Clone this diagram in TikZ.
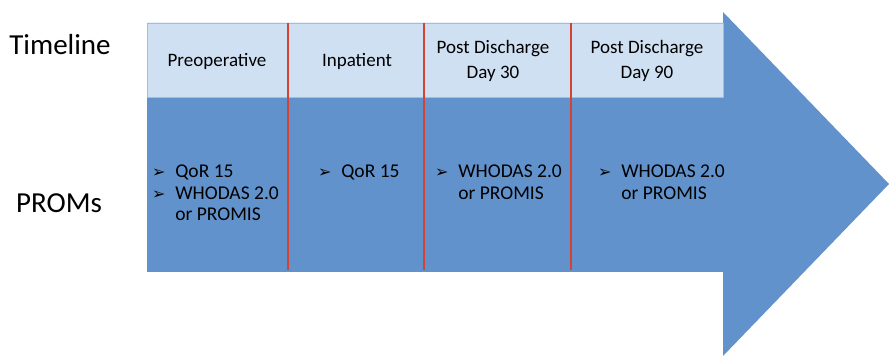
\documentclass[tikz,border=0pt]{standalone}
\usepackage{fontspec}
\setmainfont{Carlito}
\newfontfamily\bulletfont{DejaVu Sans}
\usepackage{tikz}

\newcommand{\pbul}{{\bulletfont\fontsize{16}{16}\selectfont ➢}\hspace{0.5em}}

\begin{document}
\begin{tikzpicture}
		[x=1pt,y=1pt,line cap=round,
		%Styles
		row label/.style={font=\fontsize{29}{29}\selectfont,inner sep=0pt},
		header text/.style={align=center,font=\fontsize{19}{25}\selectfont,inner sep=0pt},
		list text/.style={align=left,anchor=north west,font=\fontsize{19.5}{21.5}\selectfont,inner sep=0pt},
		divider/.style={draw=dividercolor,line width=2.6pt,line cap=butt}
		]
		
		%Colors
		\definecolor{arrowcolor}{RGB}{97,146,204}	%big arrow
		\definecolor{headercolor}{RGB}{207,224,242}	%timeline boxes
		\definecolor{headerline}{RGB}{160,188,222}
		\definecolor{dividercolor}{RGB}{214,66,50}	%red separators
		
		\useasboundingbox (0,0) rectangle (889,356);
		
		%The graphic
		\fill[arrowcolor] (147,333) -- (723,333) -- (723,344) -- (889,172) -- (723,0) -- (723,84) -- (147,84) -- cycle;
		\filldraw[fill=headercolor,draw=headerline,line width=0.8pt] (147,333) rectangle (723,259);
		
		\foreach \x in {288,424,571}
			\draw[divider] (\x,333) -- (\x,86);
		
		\node[row label] (timeline) at (60,311) {Timeline};
		\node[row label] (proms) at (59,153) {PROMs};
		
		\node[header text] (preop) at (217,295) {Preoperative};
		\node[header text] (inpat) at (357,295) {Inpatient};
		\node[header text] (day30) at (493,295) {Post Discharge\\Day 30};
		\node[header text] (day90) at (647,295) {Post Discharge\\Day 90};
		
		\node[list text] (preoplist) at (152,191) {\pbul QoR 15\\\pbul WHODAS 2.0\\\phantom{\pbul}or PROMIS};
		\node[list text] (inpatlist) at (318,191) {\pbul QoR 15};
		\node[list text] (day30list) at (435,191) {\pbul WHODAS 2.0\\\phantom{\pbul}or PROMIS};
		\node[list text] (day90list) at (598,191) {\pbul WHODAS 2.0\\\phantom{\pbul}or PROMIS};
	\end{tikzpicture}
\end{document}
